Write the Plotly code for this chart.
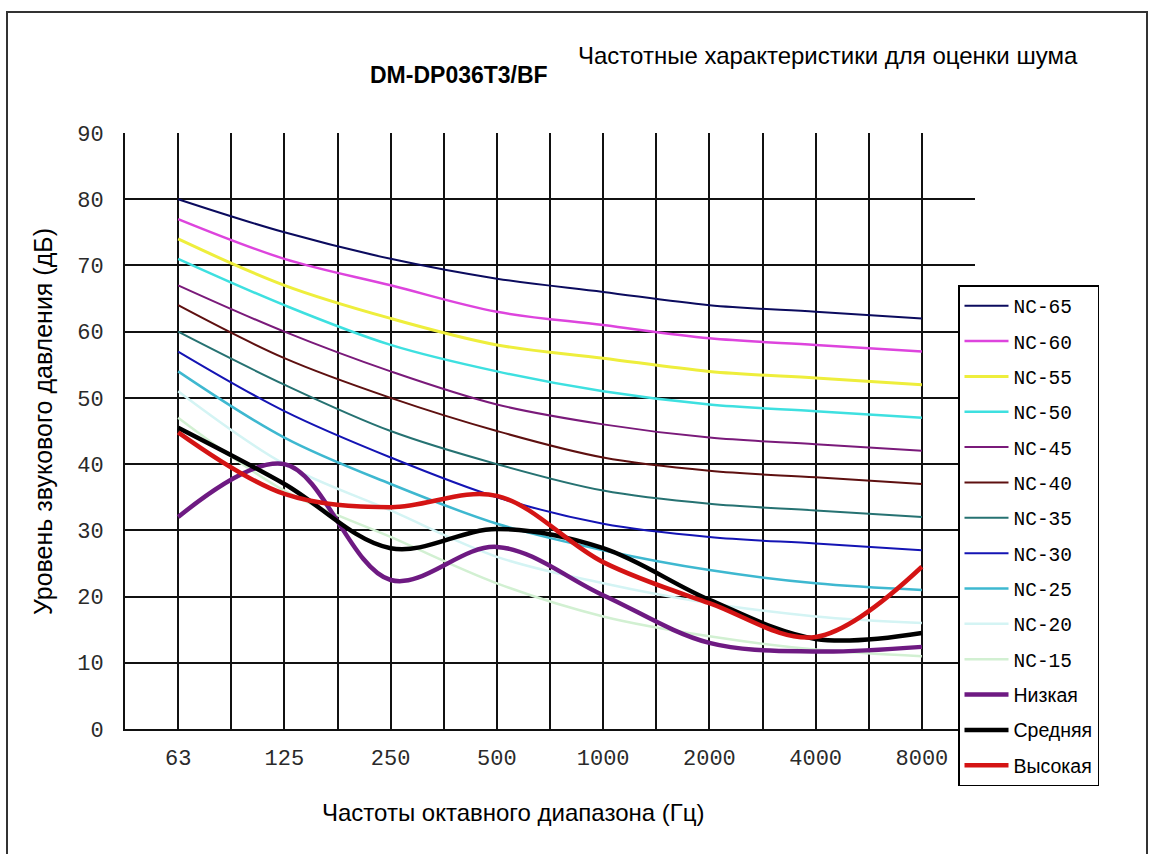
import plotly.graph_objects as go

freqs = ["63", "125", "250", "500", "1000", "2000", "4000", "8000"]

nc_names = ["NC-65", "NC-60", "NC-55", "NC-50", "NC-45", "NC-40",
            "NC-35", "NC-30", "NC-25", "NC-20", "NC-15"]
nc65 = [80, 75, 71, 68, 66, 64, 63, 62]
nc60 = [77, 71, 67, 63, 61, 59, 58, 57]
nc55 = [74, 67, 62, 58, 56, 54, 53, 52]
nc50 = [71, 64, 58, 54, 51, 49, 48, 47]
nc45 = [67, 60, 54, 49, 46, 44, 43, 42]
nc40 = [64, 56, 50, 45, 41, 39, 38, 37]
nc35 = [60, 52, 45, 40, 36, 34, 33, 32]
nc30 = [57, 48, 41, 35, 31, 29, 28, 27]
nc25 = [54, 44, 37, 31, 27, 24, 22, 21]
nc20 = [51, 40, 33, 26, 22, 19, 17, 16]
nc15 = [47, 36, 29, 22, 17, 14, 12, 11]
nc_values = [nc65, nc60, nc55, nc50, nc45, nc40, nc35, nc30, nc25, nc20, nc15]
nc_colors = ["#0b0b5e", "#dd44dd", "#eeee3c", "#3ee0e0", "#7a1a7a", "#5e1010",
             "#267272", "#1414b4", "#3eb8d0", "#d4f4f4", "#d2f0d2"]
nc_widths = [2, 2.5, 3, 2.5, 2, 2, 2, 2, 2.5, 2.5, 2.5]

low = [32, 40, 22.5, 27.5, 20.2, 13, 11.7, 12.4]
mid = [45.5, 37, 27.3, 30.2, 27.3, 19.5, 13.6, 14.5]
high = [44.8, 35.5, 33.5, 35.2, 25.2, 19, 13.9, 24.5]
meas_names = ["Низкая", "Средняя", "Высокая"]
meas_values = [low, mid, high]
meas_colors = ["#6e1a82", "#000000", "#d41414"]

title_main = "Частотные характеристики для оценки шума"
title_model = "DM-DP036T3/BF"
x_title = "Частоты октавного диапазона (Гц)"
y_title = "Уровень звукового давления (дБ)"

xpos = list(range(len(freqs)))

fig = go.Figure()
mono = "Liberation Mono, Courier New, monospace"
sans = "Liberation Sans, Arial, sans-serif"
for i, (n, v, c, w) in enumerate(zip(nc_names, nc_values, nc_colors, nc_widths)):
    fig.add_trace(go.Scatter(
        x=xpos, y=v, mode="lines", line=dict(color=c, width=w, shape="spline", smoothing=1.0),
        name=f'<span style="font-family:{mono}">{n}</span>', legendgroup=f"g{i}"))
for j, (n, v, c) in enumerate(zip(meas_names, meas_values, meas_colors)):
    fig.add_trace(go.Scatter(
        x=xpos, y=v, mode="lines", line=dict(color=c, width=4.5, shape="spline", smoothing=1.0),
        name=n, legendgroup=f"m{j}"))

L, R, T, B = 125, 975, 133, 729
W, H = 1150, 854
pw, ph = R - L, B - T

def px(x):
    return (x - L) / pw

def py(y):
    return (B - y) / ph

fig.update_layout(
    width=W, height=H,
    margin=dict(l=L, r=W - R, t=T, b=H - B),
    paper_bgcolor="white", plot_bgcolor="white",
    font=dict(family=sans, color="#000"),
    showlegend=True,
    legend=dict(
        x=px(958), y=py(285), xanchor="left", yanchor="top",
        bgcolor="white", bordercolor="#000", borderwidth=1.5,
        font=dict(size=19.5, family=sans, color="#000"),
        traceorder="grouped", tracegroupgap=7, itemwidth=44,
    ),
    xaxis=dict(
        range=[-0.5, 7.5], tickmode="array", tickvals=xpos, ticktext=freqs,
        showgrid=True, gridcolor="#111", gridwidth=2,
        minor=dict(tickvals=[k + 0.5 for k in range(7)], showgrid=True, gridcolor="#111", gridwidth=2),
        showline=True, linecolor="#111", linewidth=2, zeroline=False,
        tickfont=dict(family=mono, size=22, color="#2a2a2a"),
        ticklabelstandoff=8,
    ),
    yaxis=dict(
        range=[0, 90], tickmode="array", tickvals=list(range(0, 100, 10)),
        showgrid=False,
        minor=dict(tickvals=list(range(10, 90, 10)), showgrid=True, gridcolor="#111", gridwidth=2),
        showline=True, linecolor="#111", linewidth=2, zeroline=False,
        ticks="inside", ticklen=8, tickwidth=2, tickcolor="#111",
        tickfont=dict(family=mono, size=22, color="#2a2a2a"),
        ticklabelstandoff=15,
    ),
    annotations=[
        dict(xref="paper", yref="paper", x=px(828), y=py(55), text=title_main,
             showarrow=False, xanchor="center", yanchor="middle",
             font=dict(size=24, family=sans, color="#000")),
        dict(xref="paper", yref="paper", x=px(459), y=py(75), text=f"<b>{title_model}</b>",
             showarrow=False, xanchor="center", yanchor="middle",
             font=dict(size=23, family=sans, color="#000")),
        dict(xref="paper", yref="paper", x=px(513), y=py(812), text=x_title,
             showarrow=False, xanchor="center", yanchor="middle",
             font=dict(size=24, family=sans, color="#000")),
        dict(xref="paper", yref="paper", x=px(43), y=py(422), text=y_title, textangle=-90,
             showarrow=False, xanchor="center", yanchor="middle",
             font=dict(size=25, family=sans, color="#000")),
    ],
    shapes=[
        dict(type="rect", xref="paper", yref="paper", x0=px(7), x1=px(1147), y0=py(870), y1=py(12),
             line=dict(color="#333", width=2), fillcolor="rgba(0,0,0,0)", layer="below"),
    ],
)

fig.write_html("out.html")
